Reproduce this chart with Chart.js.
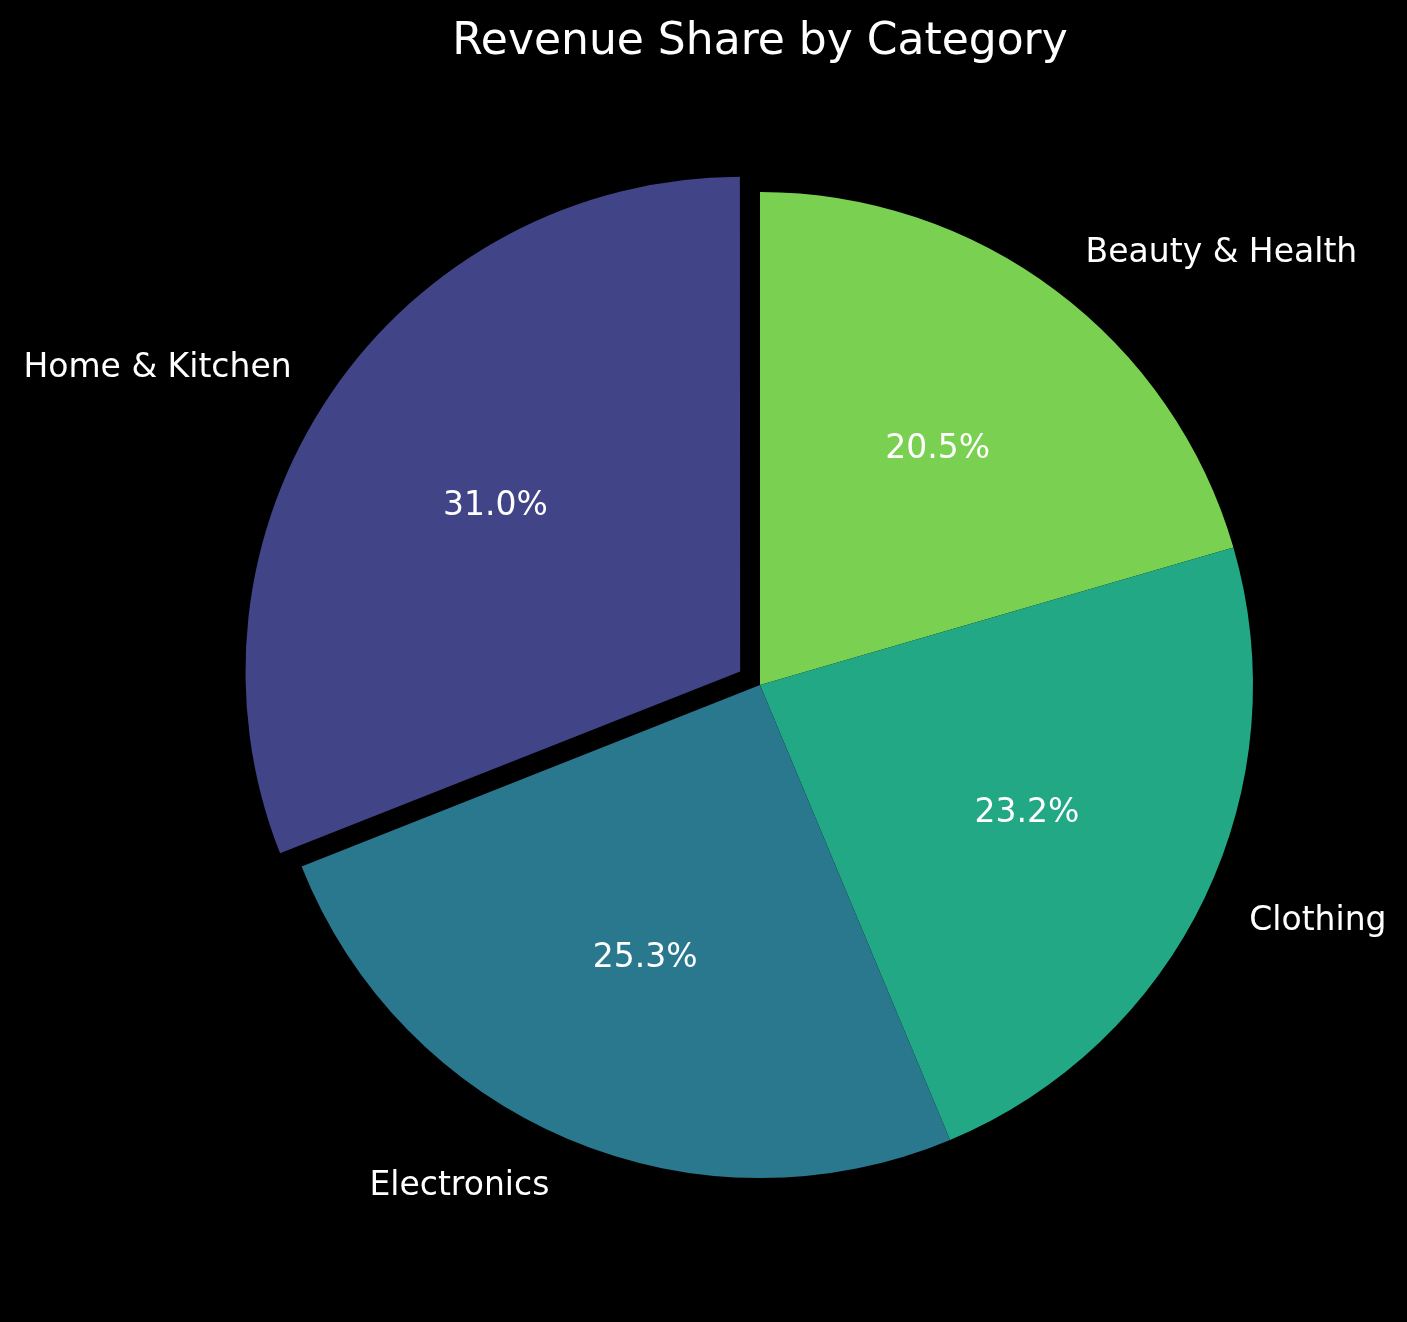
<!DOCTYPE html>
<html>
<head>
<meta charset="utf-8">
<script src="https://cdn.jsdelivr.net/npm/chart.js@4"></script>
<style>
  html, body { margin: 0; padding: 0; background: black; }
  #wrap { width: 1407px; height: 1322px; }
</style>
</head>
<body>
<div id="wrap"><canvas id="myChart" width="1407" height="1322"></canvas></div>
<script>
// Data, in Chart.js clockwise order starting from the top
const categories = ['Beauty & Health', 'Clothing', 'Electronics', 'Home & Kitchen'];
const shares = [20.5, 23.2, 25.3, 31.0];
const sliceColors = ['#7ad151', '#22a884', '#2a788e', '#414487'];
const explodePx = [0, 0, 0, 24]; // Home & Kitchen pulled out

const FONT = '"DejaVu Sans", sans-serif';

// Draws title, category labels and percentages like matplotlib does
const pieLabels = {
    id: 'pieLabels',
    afterDatasetsDraw(chart) {
        const ctx = chart.ctx;
        const meta = chart.getDatasetMeta(0);
        const total = shares.reduce((a, b) => a + b, 0);
        ctx.save();
        ctx.fillStyle = 'white';

        meta.data.forEach((arc, i) => {
            const mid = (arc.startAngle + arc.endAngle) / 2;
            const r = arc.outerRadius;
            const off = explodePx[i];
            const cx = arc.x + Math.cos(mid) * off;
            const cy = arc.y + Math.sin(mid) * off;

            // category label at 1.1 r
            ctx.font = '33px ' + FONT;
            const lx = cx + Math.cos(mid) * r * 1.1;
            const ly = cy + Math.sin(mid) * r * 1.1;
            ctx.textAlign = Math.cos(mid) > 0 ? 'left' : 'right';
            ctx.textBaseline = 'middle';
            ctx.fillText(categories[i], lx, ly + 2);

            // percentage at 0.6 r
            const px = cx + Math.cos(mid) * r * 0.6;
            const py = cy + Math.sin(mid) * r * 0.6;
            ctx.textAlign = 'center';
            ctx.fillText((shares[i] / total * 100).toFixed(1) + '%', px, py + 1);
        });

        // title
        ctx.font = '44px ' + FONT;
        ctx.textAlign = 'center';
        ctx.textBaseline = 'alphabetic';
        ctx.fillText('Revenue Share by Category', 760, 54);
        ctx.restore();
    }
};

// black background behind everything
const blackBg = {
    id: 'blackBg',
    beforeDraw(chart) {
        const ctx = chart.ctx;
        ctx.save();
        ctx.fillStyle = 'black';
        ctx.fillRect(0, 0, chart.width, chart.height);
        ctx.restore();
    }
};

const ctx = document.getElementById('myChart').getContext('2d');
new Chart(ctx, {
    type: 'pie',
    data: {
        labels: categories,
        datasets: [{
            data: shares,
            backgroundColor: sliceColors,
            borderWidth: 0,
            // Chart.js moves an arc by offset / 4 pixels
            offset: explodePx.map(v => v * 4)
        }]
    },
    options: {
        responsive: false,
        animation: false,
        layout: {
            padding: { left: 219, right: 106, top: 144, bottom: 96 }
        },
        plugins: {
            legend: { display: false },
            title: { display: false },
            tooltip: { enabled: false }
        }
    },
    plugins: [blackBg, pieLabels]
});
</script>
</body>
</html>
